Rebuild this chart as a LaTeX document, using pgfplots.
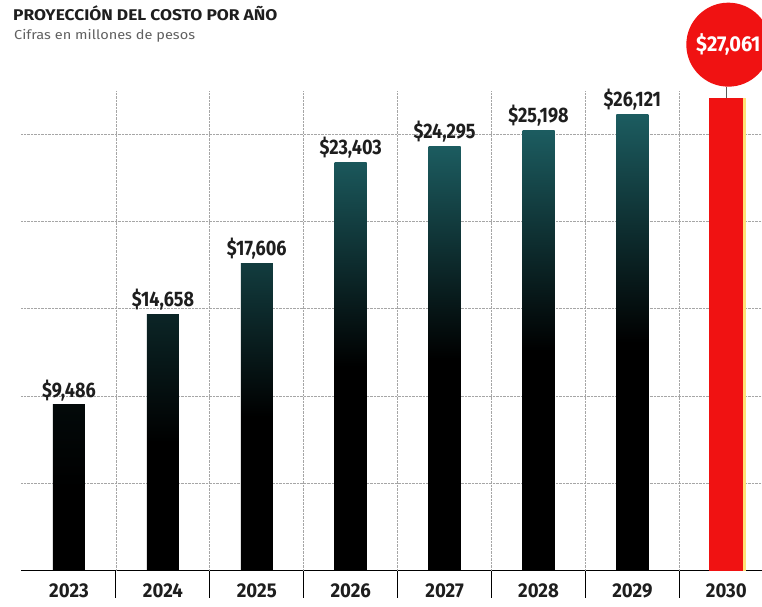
\documentclass[border=0pt]{standalone}
\usepackage{pgfplots}
\pgfplotsset{compat=1.18}
\usepackage{fontspec}
\setmainfont{Fira Sans}[FakeStretch=0.93]
\newfontfamily\titlefont{Fira Sans}[FakeStretch=1.12]
\newfontfamily\numfont{Fira Sans}[FakeStretch=0.86]
\definecolor{tealtop}{RGB}{28,92,96}
\definecolor{barred}{RGB}{240,18,18}
\definecolor{edgey}{RGB}{255,226,120}
\definecolor{ink}{RGB}{30,30,30}
\begin{document}
\begin{tikzpicture}
\begin{axis}[
  at={(0,0)}, anchor=south west,
  scale only axis, width=741pt, height=480pt,
  xmin=-0.511, xmax=7.38, ymin=0, ymax=27500,
  axis x line*=bottom, axis y line*=left,
  x axis line style={black, line width=1.2pt},
  y axis line style={draw=none},
  scaled y ticks=false,
  ytick={5000,10000,15000,20000,25000}, yticklabels={},
  ytick style={draw=none},
  ymajorgrids=true,
  grid style={densely dotted, gray!70, line width=0.8pt},
  xtick={0,...,7}, xticklabels={2023,2024,2025,2026,2027,2028,2029,2030},
  major tick length=0pt,
  xticklabel style={font=\fontsize{20}{22}\selectfont\bfseries, text=ink, yshift=-10pt},
  extra x ticks={0.5,1.5,2.5,3.5,4.5,5.5,6.5},
  extra x tick labels={},
  extra x tick style={grid=major, major tick length=27pt, tick align=outside,
     tick style={draw=black, line width=0.9pt}},
  clip=false,
  tb/.style={ybar, bar width=32pt, bar shift=0pt, draw=none,
     point meta=y,
     nodes near coords={\$\pgfmathprintnumber[assume math mode=true,fixed,precision=0,1000 sep={,}]{\pgfplotspointmeta}},
     every node near coord/.append style={anchor=south, inner sep=2pt, yshift=2pt,
        font=\numfont\fontsize{21}{24}\selectfont\bfseries, text=ink}},
]
\addplot[tb, top color=tealtop!10!black, bottom color=black, middle color=black] coordinates {(0,9486)};
\addplot[tb, top color=tealtop!40!black, bottom color=black, middle color=black] coordinates {(1,14658)};
\addplot[tb, top color=tealtop!65!black, bottom color=black, middle color=black] coordinates {(2,17606)};
\addplot[tb, top color=tealtop!95!black, bottom color=black, middle color=black] coordinates {(3,23403)};
\addplot[tb, top color=tealtop, bottom color=black, middle color=black] coordinates {(4,24295)};
\addplot[tb, top color=tealtop, bottom color=black, middle color=black] coordinates {(5,25198)};
\addplot[tb, top color=tealtop, bottom color=black, middle color=black] coordinates {(6,26121)};
\addplot[ybar, bar width=34pt, bar shift=0pt, fill=barred, draw=none] coordinates {(7,27061)};
\addplot[ybar, bar width=2.5pt, bar shift=18pt, fill=edgey, draw=none] coordinates {(7,27061)};
\draw[gray!70!black, line width=1pt] (axis cs:7,27061) -- ([yshift=11pt]axis cs:7,27061)
  node[circle, fill=barred, anchor=south, minimum size=84pt, inner sep=0pt, text=white,
       xshift=2pt, font=\fontsize{21.5}{24}\selectfont\bfseries] {\$27,061};
\end{axis}
\node[anchor=base west, inner sep=0pt, text=ink, font=\titlefont\fontsize{15.5}{17}\selectfont\bfseries] at (-8pt,549.5pt) {PROYECCIÓN DEL COSTO POR AÑO};
\node[anchor=base west, inner sep=0pt, text=gray!75!black, font=\titlefont\fontsize{13}{15}\selectfont] at (-7pt,531pt) {Cifras en millones de pesos};
\pgfresetboundingbox
\useasboundingbox (-21pt,-35.5pt) rectangle (741pt,570.5pt);
\end{tikzpicture}
\end{document}
